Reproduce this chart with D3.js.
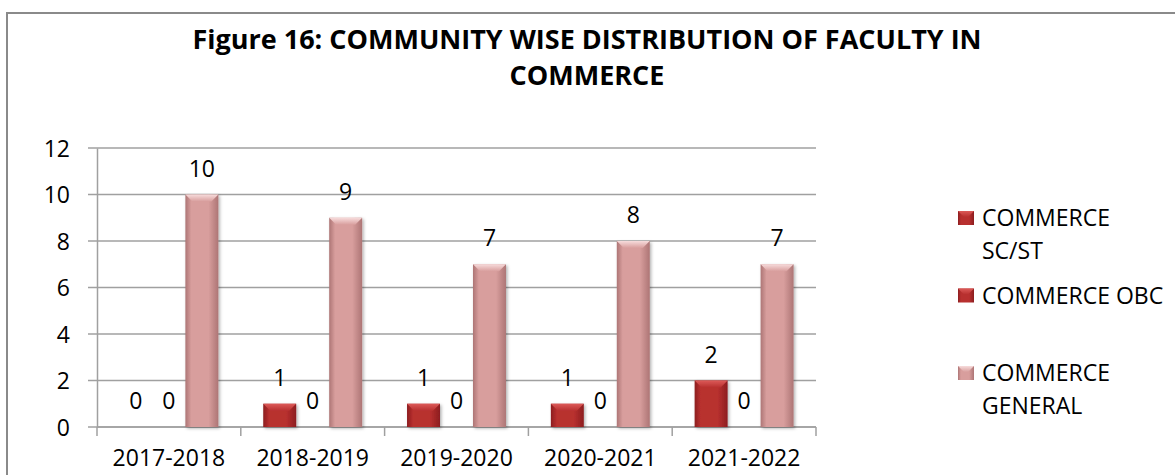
<!DOCTYPE html>
<html>
  <head>
    <style>
    body {
      margin: 0;
      background: #fff;
    }
    text {
      font-family: "Open Sans", sans-serif;
      fill: #000;
    }
    </style>
  </head>
  <body>
    <script src="https://d3js.org/d3.v7.min.js"></script>
    <script>
    var width = 1175, height = 475;

    // chart data
    var years = ["2017-2018", "2018-2019", "2019-2020", "2020-2021", "2021-2022"];
    var seriesNames = ["COMMERCE SC/ST", "COMMERCE OBC", "COMMERCE GENERAL"];
    var scst = [0, 1, 1, 1, 2];
    var obc = [0, 0, 0, 0, 0];
    var general = [10, 9, 7, 8, 7];
    var yTicks = [0, 2, 4, 6, 8, 10, 12];
    var legendLines = [["COMMERCE", "SC/ST"], ["COMMERCE OBC"], ["COMMERCE", "GENERAL"]];

    var values = [scst, obc, general];
    var palette = [
      {edge: "#8c1d1f", mid: "#b8302f", top: "#dc5a58"},
      {edge: "#8c1d1f", mid: "#b8302f", top: "#dc5a58"},
      {edge: "#ad7575", mid: "#d89e9d", top: "#f7dcdc"}
    ];

    var margin = {left: 97, right: 1175 - 816, top: 148, bottom: 475 - 427};
    var fs = "23px";

    var svg = d3.select("body").append("svg")
        .attr("width", width)
        .attr("height", height);

    var defs = svg.append("defs");
    palette.forEach(function(c, i) {
      var g = defs.append("linearGradient").attr("id", "body" + i)
          .attr("x1", 0).attr("x2", 1).attr("y1", 0).attr("y2", 0);
      g.append("stop").attr("offset", "0%").attr("stop-color", c.edge);
      g.append("stop").attr("offset", "18%").attr("stop-color", c.mid);
      g.append("stop").attr("offset", "70%").attr("stop-color", c.mid);
      g.append("stop").attr("offset", "100%").attr("stop-color", c.edge);
      var t = defs.append("linearGradient").attr("id", "top" + i)
          .attr("x1", 0).attr("x2", 0).attr("y1", 0).attr("y2", 1);
      t.append("stop").attr("offset", "0%").attr("stop-color", c.top);
      t.append("stop").attr("offset", "100%").attr("stop-color", c.mid);
    });
    var f = defs.append("filter").attr("id", "shadow")
        .attr("x", "-20%").attr("y", "-20%").attr("width", "150%").attr("height", "150%");
    f.append("feDropShadow").attr("dx", 1.5).attr("dy", 1.5).attr("stdDeviation", 1.5)
        .attr("flood-color", "#000").attr("flood-opacity", 0.3);

    // chart border
    svg.append("rect")
        .attr("x", 7).attr("y", 13)
        .attr("width", 1200).attr("height", 500)
        .attr("fill", "none")
        .attr("stroke", "#8a8a8a")
        .attr("stroke-width", 2);

    // title
    var title = svg.append("text")
        .attr("text-anchor", "middle")
        .style("font-weight", "bold")
        .style("font-size", "27px");
    title.append("tspan").attr("x", 587).attr("y", 49)
        .text("Figure 16: COMMUNITY WISE DISTRIBUTION OF FACULTY IN");
    title.append("tspan").attr("x", 587).attr("y", 85)
        .text("COMMERCE");

    var x0 = d3.scaleBand()
        .domain(years)
        .range([margin.left, width - margin.right]);

    var x1 = d3.scaleBand()
        .domain(d3.range(seriesNames.length))
        .range([0, x0.bandwidth()])
        .paddingOuter(0.68);

    var y = d3.scaleLinear()
        .domain([0, 12])
        .range([height - margin.bottom, margin.top]);

    // gridlines
    svg.append("g")
        .selectAll("line")
        .data(yTicks)
        .enter().append("line")
        .attr("x1", margin.left - 9)
        .attr("x2", width - margin.right)
        .attr("y1", function(d) { return y(d); })
        .attr("y2", function(d) { return y(d); })
        .attr("stroke", "#a0a0a0")
        .attr("stroke-width", 1.5);

    // y axis
    var yAxis = svg.append("g")
        .attr("transform", "translate(" + margin.left + ",0)")
        .call(d3.axisLeft(y).tickValues(yTicks).tickSize(0).tickPadding(27));
    yAxis.select(".domain").attr("stroke", "#a0a0a0").attr("stroke-width", 1.5);
    yAxis.selectAll("text").style("font-size", fs).attr("dy", "0.35em");

    // x axis
    var xAxis = svg.append("g")
        .attr("transform", "translate(0," + y(0) + ")")
        .call(d3.axisBottom(x0).tickSize(0).tickPadding(23));
    xAxis.select(".domain").remove();
    xAxis.selectAll("text").style("font-size", fs);
    xAxis.append("g").selectAll("line")
        .data(years.concat(["end"]))
        .enter().append("line")
        .attr("x1", function(d, i) { return margin.left + i * x0.step(); })
        .attr("x2", function(d, i) { return margin.left + i * x0.step(); })
        .attr("y1", 0).attr("y2", 9)
        .attr("stroke", "#a0a0a0")
        .attr("stroke-width", 1.5);
    xAxis.append("line")
        .attr("x1", margin.left).attr("x2", width - margin.right)
        .attr("stroke", "#a0a0a0").attr("stroke-width", 1.5);

    // bars
    var bevel = 7;
    var groups = svg.append("g")
        .selectAll("g")
        .data(years)
        .enter().append("g")
        .attr("transform", function(d) { return "translate(" + x0(d) + ",0)"; });

    groups.each(function(year, yi) {
      var g = d3.select(this);
      seriesNames.forEach(function(name, si) {
        var v = values[si][yi];
        var bx = x1(si), bw = x1.bandwidth();
        var top = y(v), h = y(0) - y(v);
        if (v > 0) {
          var b = Math.min(bevel, h / 2);
          var bar = g.append("g").attr("filter", "url(#shadow)");
          bar.append("rect")
              .attr("x", bx).attr("y", top)
              .attr("width", bw).attr("height", h)
              .attr("fill", "url(#body" + si + ")");
          bar.append("path")
              .attr("d", "M" + bx + "," + top + "H" + (bx + bw) +
                    "L" + (bx + bw - b) + "," + (top + b) + "H" + (bx + b) + "Z")
              .attr("fill", "url(#top" + si + ")");
        }
        g.append("text")
            .attr("x", bx + bw / 2)
            .attr("y", top - 18)
            .attr("text-anchor", "middle")
            .style("font-size", fs)
            .text(v);
      });
    });

    // legend
    var legend = svg.append("g")
        .selectAll("g")
        .data(seriesNames)
        .enter().append("g")
        .attr("transform", function(d, i) { return "translate(958," + (218 + i * 77.5) + ")"; });

    legend.append("rect")
        .attr("x", 0).attr("y", -7)
        .attr("width", 16).attr("height", 14)
        .attr("fill", function(d, i) { return "url(#body" + i + ")"; });
    legend.append("path")
        .attr("d", "M0,-7H16L10,-1H6Z")
        .attr("fill", function(d, i) { return "url(#top" + i + ")"; });

    legend.append("text")
        .style("font-size", fs)
        .each(function(d, i) {
          var t = d3.select(this);
          legendLines[i].forEach(function(line, li) {
            t.append("tspan")
                .attr("x", 24)
                .attr("y", li * 33)
                .attr("dy", "0.35em")
                .text(line);
          });
        });
    </script>
  </body>
</html>
